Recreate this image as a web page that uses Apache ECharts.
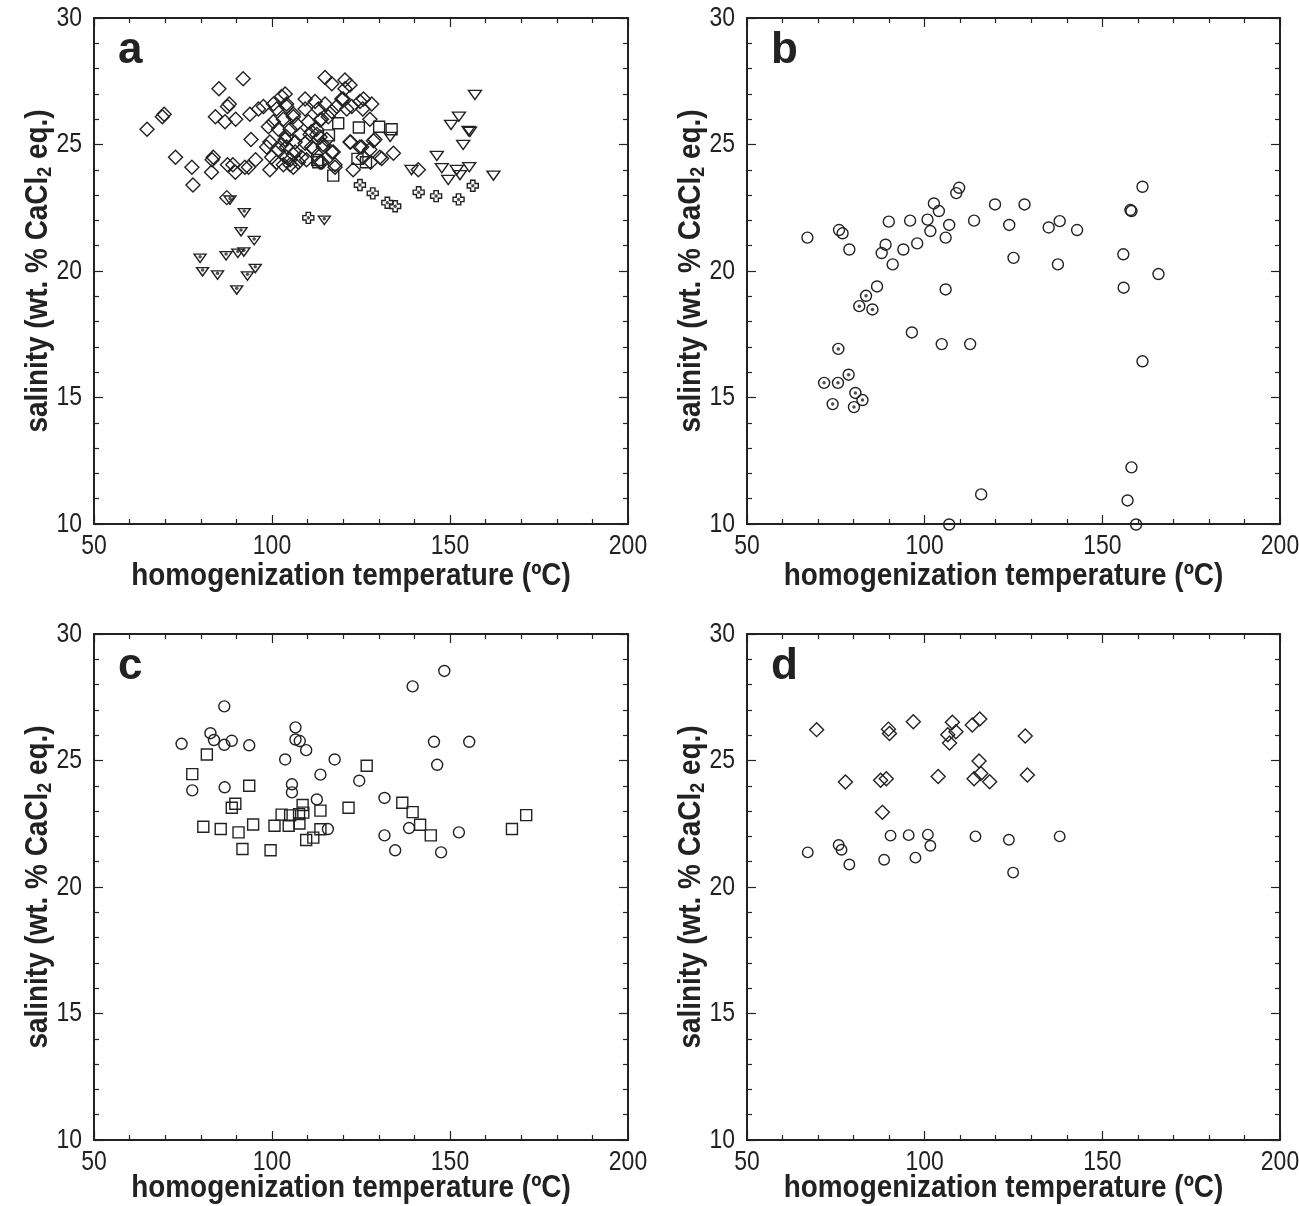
<!DOCTYPE html>
<html>
<head>
<meta charset="utf-8">
<script src="https://cdn.jsdelivr.net/npm/echarts@6/dist/echarts.min.js"></script>
<style>html,body{margin:0;padding:0;background:#fff;}#c{width:1299px;height:1206px;}</style>
</head>
<body>
<div id="c"></div>
<script>
// ---- Data (homogenization temperature ºC, salinity wt.% CaCl2 eq.) ----
const xTicks = [50, 100, 150, 200];
const yTicks = [10, 15, 20, 25, 30];
const panelLetters = ['a', 'b', 'c', 'd'];
const xTitle = 'homogenization temperature (ºC)';
const yTitleParts = ['salinity (wt. % CaCl', '2', ' eq.)'];

// Panel a
const aDiamonds = [
[64.9,25.6],[69.2,26.1],[69.7,26.2],[72.9,24.5],[77.5,24.1],[77.8,23.4],[85.1,27.2],[91.9,27.6],[87.5,26.5],[88.0,26.6],
[84.1,26.1],[86.8,25.9],[89.8,26.0],[94.1,25.2],[93.8,26.2],[96.2,26.4],[83.2,24.4],[83.5,24.5],[83.0,23.9],[87.5,24.2],
[89.0,24.2],[89.7,23.9],[92.4,24.1],[93.4,24.1],[95.4,24.4],[99.4,24.0],[98.5,24.9],[99.4,25.1],[87.3,22.9],
[97.6,26.5],[100.4,26.6],[102.7,26.9],[101.3,26.4],[104.1,26.5],[99.0,25.7],[100.4,25.9],[101.8,25.6],[103.2,26.0],[106.0,26.1],
[99.9,24.5],[102.7,25.0],[104.1,25.3],[101.8,24.8],[104.1,24.5],[101.3,24.3],[106.0,24.1],[103.2,24.2],[105.1,24.2],[107.4,24.3],[106.0,24.6],
[103.7,27.0],[109.3,26.8],[112.1,26.7],[114.9,26.6],[106.0,26.2],[109.3,26.4],[113.0,26.4],[116.8,26.3],[104.1,26.6],[106.9,25.8],
[110.2,25.9],[113.9,26.0],[105.1,25.6],[107.9,25.4],[111.1,25.5],[112.6,25.4],[103.7,25.2],[106.5,25.1],[109.3,25.05],[114.4,25.0],
[111.6,24.85],[116.8,24.7],[104.1,24.9],[106.5,24.7],[108.3,24.5],[105.1,24.4],[109.7,24.4],[114.0,24.3],[117.7,24.2],[110.7,25.4],
[112.5,25.6],[113.5,25.3],[115.4,25.2],[111.1,24.9],[114.4,24.9],[117.2,24.7],[113.5,24.3],[113.5,25.97],[115.8,26.1],
[114.9,27.65],[116.8,27.4],[120.5,27.55],[121.9,27.35],[120.5,27.2],[119.6,26.8],[124.7,26.7],[125.5,26.4],[122.4,26.5],[120.0,26.8],
[121.0,26.4],[118.2,26.5],[125.7,26.8],[128.0,26.6],[127.5,26.0],
[128.9,25.2],[121.9,25.1],[125.2,24.9],[130.8,24.45],[134.1,24.65],[127.5,24.8],[122.8,24.0],[141.1,24.0],[122.1,25.1],[128.5,25.15],
[130.3,24.5],[127.7,24.3],[117.7,24.1],[124.7,24.9],[125.6,24.5]
];
const aSquares = [
[118.6,25.84],[116.0,25.36],[124.4,25.67],[130.1,25.7],[133.6,25.6],[112.7,24.39],[113.0,24.3],[124.0,24.43],[126.4,24.3],[117.2,23.77]
];
const aTriangles = [
[157.0,26.96],[152.5,26.1],[150.3,25.77],[155.2,25.53],[155.6,25.5],[153.7,24.98],[146.3,24.55],[147.7,24.06],[149.5,23.6],
[151.9,23.99],[152.8,23.79],[155.4,24.1],[162.2,23.77],[139.2,23.99],[133.2,25.3]
];
const aDotTriangles = [
[88.2,22.8],[92.2,22.3],[91.3,21.55],[95.0,21.2],[79.8,20.5],[87.1,20.6],[90.4,20.7],[92.1,20.75],[80.5,19.97],[84.7,19.84],
[95.3,20.1],[93.1,19.8],[90.1,19.25],[114.7,22.0]
];
const aDotCrosses = [
[124.7,23.4],[128.3,23.07],[132.4,22.7],[134.6,22.56],[141.2,23.11],[146.1,22.96],[152.4,22.83],[156.4,23.37],[110.2,22.1]
];

// Panel b
const bCircles = [
[67.0,21.32],[75.9,21.62],[76.9,21.49],[78.8,20.85],[89.9,21.95],[89.0,21.04],[87.9,20.71],[91.0,20.26],[95.9,21.99],[94.0,20.85],
[97.9,21.09],[100.8,22.03],[101.6,21.58],[102.6,22.67],[104.0,22.37],[106.9,21.82],[105.9,21.32],[108.9,23.08],[109.7,23.29],[113.9,21.99],
[119.8,22.63],[123.8,21.82],[125.0,20.52],[128.1,22.63],[134.9,21.72],[138.0,21.97],[137.5,20.26],[142.9,21.62],[86.6,19.39],[105.9,19.27],
[96.4,17.57],[104.8,17.11],[112.8,17.11],[115.9,11.17],[106.9,9.98],
[161.3,23.33],[157.9,22.41],[158.2,22.37],[155.9,20.66],[165.8,19.88],[156.0,19.34],[161.3,16.43],[158.2,12.24],[157.1,10.93],[159.5,9.98]
];
const bDotCircles = [
[83.5,19.02],[81.6,18.61],[85.3,18.48],[75.7,16.92],[78.6,15.9],[71.7,15.58],[75.6,15.58],[80.5,15.18],[82.5,14.9],[74.1,14.74],[80.1,14.62]
];

// Panel c
const cCircles = [
[74.6,25.66],[86.6,27.14],[82.7,26.08],[83.7,25.81],[86.6,25.62],[88.7,25.78],[93.6,25.6],[106.6,26.31],[106.6,25.83],[107.8,25.77],
[109.6,25.41],[103.7,25.04],[117.6,25.04],[113.6,24.44],[124.5,24.2],[77.6,23.82],[86.7,23.94],[105.6,24.06],[105.6,23.74],[112.6,23.46],
[131.6,23.52],[115.7,22.29],[131.6,22.04],[138.5,22.33],[134.6,21.45],[147.5,21.37],[152.5,22.16],[139.5,27.93],[148.4,28.54],[145.5,25.74],
[155.4,25.74],[146.4,24.83]
];
const cSquares = [
[81.7,25.24],[77.6,24.46],[93.6,24.0],[89.7,23.29],[88.7,23.13],[80.7,22.38],[85.6,22.29],[90.6,22.16],[94.7,22.47],[91.7,21.5],
[99.6,21.45],[100.7,22.42],[102.7,22.86],[104.7,22.42],[105.1,22.83],[107.6,22.88],[107.7,22.51],[108.6,23.24],[108.8,22.94],[113.6,23.02],
[113.6,22.28],[111.6,21.95],[109.6,21.86],[121.5,23.13],[126.6,24.79],[136.6,23.33],[139.5,22.96],[141.6,22.46],[144.6,22.04],[167.4,22.29],
[171.4,22.84]
];

// Panel d
const dDiamonds = [
[69.6,26.22],[77.7,24.15],[89.8,26.24],[90.1,26.07],[96.8,26.53],[107.8,26.51],[108.8,26.14],[106.5,26.02],[107.0,25.69],[113.4,26.4],
[115.5,26.64],[128.3,25.97],[87.6,24.22],[89.2,24.28],[103.8,24.37],[115.3,24.98],[113.9,24.28],[115.8,24.49],[118.3,24.16],[128.9,24.43],
[88.1,22.95]
];
const dCircles = [
[67.1,21.37],[75.8,21.66],[76.6,21.47],[78.8,20.89],[90.4,22.03],[88.6,21.08],[95.5,22.05],[97.4,21.16],[100.9,22.07],[101.6,21.63],
[114.3,22.0],[123.7,21.87],[124.9,20.57],[138.0,22.0]
];

// ---- Chart ----
const INK = '#222';
const FONT = '"Liberation Sans", Arial, sans-serif';
const NARROW = 0.82;   // emulate a condensed face
const grids = [
  {left: 94, top: 18, width: 534, height: 506},
  {left: 747, top: 18, width: 533, height: 506},
  {left: 94, top: 634, width: 534, height: 506},
  {left: 747, top: 634, width: 533, height: 506}
];
const xAxes = [], yAxes = [];
grids.forEach((g, i) => {
  const common = {
    gridIndex: i, type: 'value', min: 50, max: 200, interval: 50,
    axisLine: {show: true, onZero: false, lineStyle: {color: INK, width: 2}},
    axisTick: {show: true, inside: true, length: 9, lineStyle: {color: INK, width: 1.2}},
    minorTick: {show: true, splitNumber: 5, length: 5, lineStyle: {color: INK, width: 1.2}},
    splitLine: {show: false}, minorSplitLine: {show: false}, axisLabel: {show: false}
  };
  xAxes.push(Object.assign({}, common, {position: 'bottom'}));
  xAxes.push(Object.assign({}, common, {position: 'top'}));
  const ycommon = Object.assign({}, common, {min: 10, max: 30, interval: 5});
  yAxes.push(Object.assign({}, ycommon, {position: 'left'}));
  yAxes.push(Object.assign({}, ycommon, {position: 'right'}));
});

const TRI = 'path://M0,0L12,0L6,10Z';
const CROSS = 'path://M3,0H7V3H10V7H7V10H3V7H0V3H3Z';
function scatter(grid, data, symbol, size) {
  return {
    type: 'scatter', xAxisIndex: grid * 2, yAxisIndex: grid * 2, data: data,
    symbol: symbol, symbolSize: size, symbolKeepAspect: true, clip: false, silent: true,
    itemStyle: {color: 'rgba(0,0,0,0)', borderColor: INK, borderWidth: 1.4, opacity: 1},
    emphasis: {disabled: true}
  };
}
function dots(grid, data, offset) {
  return {
    type: 'scatter', xAxisIndex: grid * 2, yAxisIndex: grid * 2, data: data,
    symbol: 'circle', symbolSize: 3.5, symbolOffset: offset || [0, 0], clip: false, silent: true,
    itemStyle: {color: INK}, emphasis: {disabled: true}
  };
}

const series = [
  scatter(0, aDiamonds, 'diamond', 14),
  scatter(0, aSquares, 'rect', 11),
  scatter(0, aTriangles, TRI, [13, 11]),
  scatter(0, aDotTriangles, TRI, [12, 10]),
  dots(0, aDotTriangles, [0, -1.7]),
  scatter(0, aDotCrosses, CROSS, 11),
  dots(0, aDotCrosses),
  scatter(1, bCircles, 'circle', 11),
  scatter(1, bDotCircles, 'circle', 11),
  dots(1, bDotCircles),
  scatter(2, cCircles, 'circle', 11),
  scatter(2, cSquares, 'rect', 11),
  scatter(3, dDiamonds, 'diamond', 14),
  scatter(3, dCircles, 'circle', 10.5)
];

const chart = echarts.init(document.getElementById('c'), null, {renderer: 'canvas'});
chart.setOption({
  animation: false,
  backgroundColor: '#fff',
  grid: grids,
  xAxis: xAxes,
  yAxis: yAxes,
  series: series
});

// Tick labels, axis titles and panel letters as (condensed) text, placed through the axes' own scales
const elements = [];
grids.forEach((g, i) => {
  const xi = i * 2, yi = i * 2;
  const x0 = chart.convertToPixel({xAxisIndex: xi}, 50);
  const x1 = chart.convertToPixel({xAxisIndex: xi}, 200);
  const y0 = chart.convertToPixel({yAxisIndex: yi}, 10);
  const y1 = chart.convertToPixel({yAxisIndex: yi}, 30);
  xTicks.forEach(v => {
    elements.push({type: 'text', x: chart.convertToPixel({xAxisIndex: xi}, v), y: y0 + 22, scaleX: NARROW, silent: true,
      style: {text: String(v), fill: INK, font: '28px ' + FONT, align: 'center', verticalAlign: 'middle'}});
  });
  yTicks.forEach(v => {
    elements.push({type: 'text', x: x0 - 12, y: chart.convertToPixel({yAxisIndex: yi}, v), scaleX: NARROW, silent: true,
      style: {text: String(v), fill: INK, font: '28px ' + FONT, align: 'right', verticalAlign: 'middle'}});
  });
  elements.push({type: 'text', x: (x0 + x1) / 2 - 10, y: y0 + (i < 2 ? 52 : 48), scaleX: 0.9, silent: true,
    style: {text: xTitle, fill: INK, font: 'bold 31px ' + FONT, align: 'center', verticalAlign: 'middle'}});
  elements.push({type: 'text', x: x0 - 56, y: (y0 + y1) / 2, rotation: Math.PI / 2, scaleX: 0.9, silent: true,
    style: {
      text: '{t|' + yTitleParts[0] + '}{s|' + yTitleParts[1] + '}{t|' + yTitleParts[2] + '}',
      align: 'center', verticalAlign: 'middle',
      rich: {
        t: {fill: INK, font: 'bold 31px ' + FONT, lineHeight: 38},
        s: {fill: INK, font: 'bold 20px ' + FONT, lineHeight: 38, padding: [15, 0, 0, 0]}
      }
    }});
  elements.push({type: 'text', x: x0 + 24, y: y1 + 33, silent: true,
    style: {text: panelLetters[i], fill: INK, font: 'bold 44px ' + FONT, align: 'left', verticalAlign: 'middle'}});
});
chart.setOption({graphic: {elements: elements}});
</script>
</body>
</html>
